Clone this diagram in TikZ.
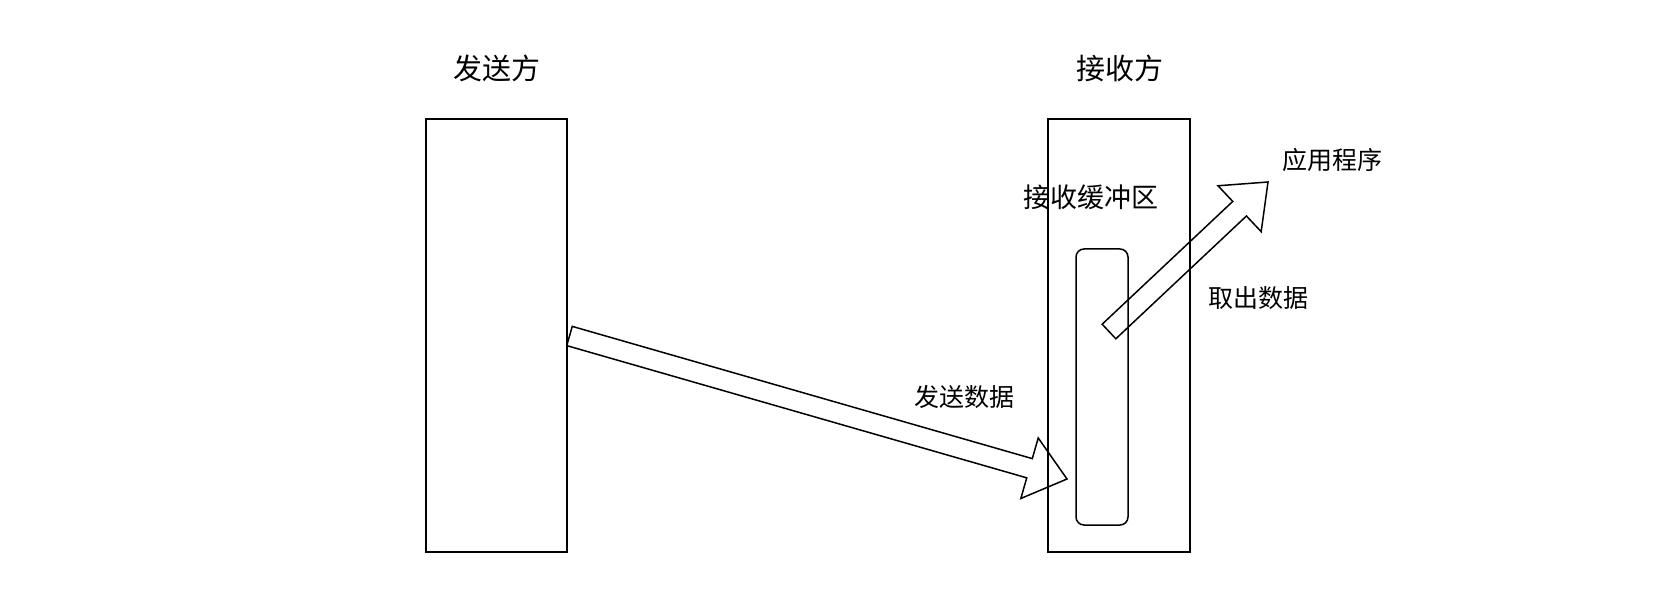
\documentclass[tikz,border=0pt]{standalone}
\usepackage{fontspec}
\newfontfamily\cjk{Noto Sans CJK SC}
\usetikzlibrary{calc}
\tikzset{
  box/.style={draw, line width=1.5pt},
  buffer/.style={draw, line width=1.5pt, rounded corners=8pt},
  titletext/.style={font=\cjk\fontsize{29}{34}\selectfont, inner sep=0pt},
  labeltext/.style={font=\cjk\fontsize{25}{30}\selectfont, inner sep=0pt},
  bigarrow/.style={draw, line width=1.5pt, line join=miter},
}
\newcommand{\blockarrow}[2]{%
  \coordinate (#1h) at ($(#2)!39pt!(#1)$);
  \draw[bigarrow] ($(#1)!10pt!90:(#2)$) -- ($(#1h)!10pt!90:(#2)$) -- ($(#1h)!31.5pt!90:(#2)$) -- (#2)
    -- ($(#1h)!31.5pt!-90:(#2)$) -- ($(#1h)!10pt!-90:(#2)$) -- ($(#1)!10pt!-90:(#2)$) -- cycle;
}
\begin{document}
\begin{tikzpicture}[x=1pt,y=-1pt]
\useasboundingbox (0,0) rectangle (1671,601);
% boxes
\draw[box] (426,119) rectangle (567,552);
\draw[box] (1048,119) rectangle (1190,552);
\draw[buffer] (1076,249) rectangle (1128,525);
% texts
\node[titletext] (sendtitle) at (497,68) {发送方};
\node[titletext] (recvtitle) at (1120,68) {接收方};
\node[labeltext, font=\cjk\fontsize{27}{32}\selectfont] (buflabel) at (1091,197) {接收缓冲区};
\node[labeltext] (applabel) at (1332,160) {应用程序};
\node[labeltext] (takelabel) at (1258,298) {取出数据};
\node[labeltext] (sendlabel) at (964,397) {发送数据};
% arrows
\coordinate (tailA) at (569.5,336);
\coordinate (tipA) at (1067,479);
\coordinate (tailB) at (1109,331.5);
\coordinate (tipB) at (1268,182);
\blockarrow{tailA}{tipA}
\blockarrow{tailB}{tipB}
\end{tikzpicture}
\end{document}
